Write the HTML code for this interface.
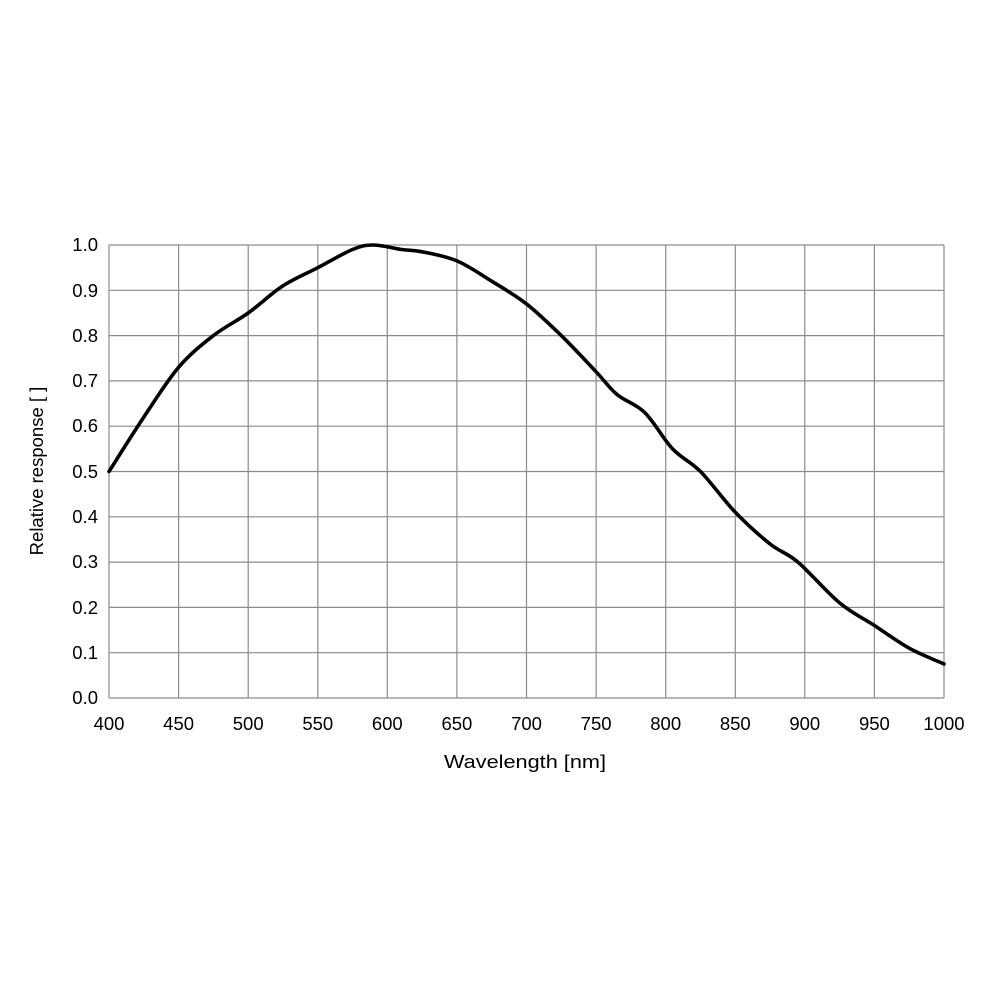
<!DOCTYPE html>
<html><head><style>body{margin:0;background:#fff}</style></head><body>
<svg width="1000" height="1000" xmlns="http://www.w3.org/2000/svg" font-family="Liberation Sans, Arial, sans-serif" font-size="18.5" fill="#000">
<rect width="1000" height="1000" fill="#fff"/>
<g stroke="#8c8c8c" stroke-width="1.2">
<line x1="109" y1="245" x2="944" y2="245"/><line x1="109" y1="290.3" x2="944" y2="290.3"/><line x1="109" y1="335.6" x2="944" y2="335.6"/><line x1="109" y1="380.9" x2="944" y2="380.9"/><line x1="109" y1="426.2" x2="944" y2="426.2"/><line x1="109" y1="471.5" x2="944" y2="471.5"/><line x1="109" y1="516.8" x2="944" y2="516.8"/><line x1="109" y1="562.1" x2="944" y2="562.1"/><line x1="109" y1="607.4" x2="944" y2="607.4"/><line x1="109" y1="652.7" x2="944" y2="652.7"/><line x1="109" y1="698" x2="944" y2="698"/>
<line x1="109" y1="245" x2="109" y2="698"/><line x1="178.6" y1="245" x2="178.6" y2="698"/><line x1="248.2" y1="245" x2="248.2" y2="698"/><line x1="317.8" y1="245" x2="317.8" y2="698"/><line x1="387.3" y1="245" x2="387.3" y2="698"/><line x1="456.9" y1="245" x2="456.9" y2="698"/><line x1="526.5" y1="245" x2="526.5" y2="698"/><line x1="596.1" y1="245" x2="596.1" y2="698"/><line x1="665.7" y1="245" x2="665.7" y2="698"/><line x1="735.3" y1="245" x2="735.3" y2="698"/><line x1="804.8" y1="245" x2="804.8" y2="698"/><line x1="874.4" y1="245" x2="874.4" y2="698"/><line x1="944" y1="245" x2="944" y2="698"/>
</g>
<g text-anchor="end">
<text x="98" y="251">1.0</text><text x="98" y="297">0.9</text><text x="98" y="342">0.8</text><text x="98" y="387">0.7</text><text x="98" y="432">0.6</text><text x="98" y="478">0.5</text><text x="98" y="523">0.4</text><text x="98" y="568">0.3</text><text x="98" y="614">0.2</text><text x="98" y="659">0.1</text><text x="98" y="704">0.0</text>
</g>
<g text-anchor="middle">
<text x="109" y="730">400</text><text x="178.6" y="730">450</text><text x="248.2" y="730">500</text><text x="317.8" y="730">550</text><text x="387.3" y="730">600</text><text x="456.9" y="730">650</text><text x="526.5" y="730">700</text><text x="596.1" y="730">750</text><text x="665.7" y="730">800</text><text x="735.3" y="730">850</text><text x="804.8" y="730">900</text><text x="874.4" y="730">950</text><text x="944" y="730">1000</text>
<text x="525" y="768" textLength="162" lengthAdjust="spacingAndGlyphs">Wavelength [nm]</text>
<text transform="translate(43,471) rotate(-90)">Relative response [ ]</text>
</g>
<path id="c" fill="none" stroke="#000" stroke-width="3.6" stroke-linejoin="round" stroke-linecap="round" d=""/>
</svg>
<script>
var p=[[109,471.5],[143.8,417.1],[178.6,367.3],[213.4,335.6],[248.2,313],[283,285.8],[317.8,267.7],[352.5,249.5],[373.4,245],[401.3,249.5],[422.1,251.8],[456.9,260.9],[491.7,281.2],[526.5,303.9],[561.3,335.6],[596.1,371.8],[617,394.5],[644.8,412.6],[672.6,448.9],[700.5,471.5],[735.3,512.3],[770.1,544],[797.9,562.1],[839.6,602.9],[874.4,625.5],[909.2,648.2],[944,664]];
var d="M"+p[0][0]+","+p[0][1];
for(var i=0;i<p.length-1;i++){var a=p[i-1]||p[i],b=p[i],c=p[i+1],e=p[i+2]||c;
d+=" C"+(b[0]+(c[0]-a[0])/6)+","+(b[1]+(c[1]-a[1])/6)+" "+(c[0]-(e[0]-b[0])/6)+","+(c[1]-(e[1]-b[1])/6)+" "+c[0]+","+c[1];}
document.getElementById("c").setAttribute("d",d);
</script>
</body></html>
